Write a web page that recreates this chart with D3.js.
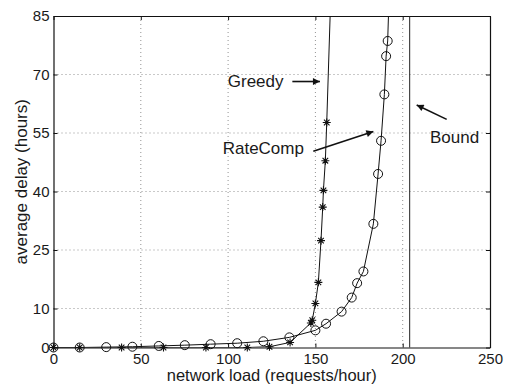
<!DOCTYPE html>
<html><head><meta charset="utf-8">
<script src="https://cdn.jsdelivr.net/npm/d3@7"></script>
<style>body{margin:0;background:#fff}svg{display:block}text{font-family:"Liberation Sans",Arial,sans-serif;fill:#1a1a1a}</style>
</head><body><svg id="c" width="505" height="385"></svg>
<script>
const greedyX = [0, 15, 39, 63, 87.3, 111, 123.7, 135.5, 147.4, 148.2, 150, 151.7, 153.2, 154.2, 154.6, 155.7, 156.5, 159.5];
const greedyY = [0, 0, 0, 0, 0, 0, 0.2, 1.3, 6.3, 7.0, 11.3, 16.7, 27.4, 36.0, 40.3, 47.9, 57.7, 100];
const greedyMarker = [1,1,1,1,1,1,1,1,1,1,1,1,1,1,1,1,1,0];
const rateX = [0, 15, 30.2, 45.2, 60.3, 75.2, 90, 105.2, 120.2, 135.1, 150, 156.1, 165, 170.8, 173.9, 177.5, 183.2, 185.9, 187.6, 189.5, 190.5, 191.4, 192.2];
const rateY = [0, 0, 0.1, 0.2, 0.4, 0.6, 0.85, 1.1, 1.6, 2.6, 4.4, 6.1, 9.2, 12.8, 16.5, 19.5, 31.7, 44.5, 53.0, 64.9, 74.7, 78.6, 90];
const rateMarker = [1,1,1,1,1,1,1,1,1,1,1,1,1,1,1,1,1,1,1,1,1,1,0];
const boundX = 204;
const xTicks = [0, 50, 100, 150, 200, 250];
const yTicks = [0, 10, 25, 40, 55, 70, 85];
const annotations = [
  {text: "Greedy", tx: 99.8, ty: 66.7, ax1: 136.8, ay1: 68.2, ax2: 152.6, ay2: 68.2},
  {text: "RateComp", tx: 96.9, ty: 49.7, ax1: 148.8, ay1: 50.3, ax2: 183.2, ay2: 55.4},
  {text: "Bound", tx: 215.6, ty: 52.4, ax1: 225.2, ay1: 58.5, ax2: 208, ay2: 62.2}
];

const svg = d3.select("#c");
const L = 53.5, R = 490, T = 16, B = 347.5;
const x = d3.scaleLinear().domain([0, 250]).range([L, R]);
const y = d3.scaleLinear().domain([0, 85]).range([B, T]);

const defs = svg.append("defs");
defs.append("clipPath").attr("id","clip")
  .append("rect").attr("x",L).attr("y",T).attr("width",R-L).attr("height",B-T);
defs.append("marker").attr("id","arr").attr("viewBox","0 0 10 10").attr("refX",10).attr("refY",5)
  .attr("markerWidth",10).attr("markerHeight",7).attr("markerUnits","userSpaceOnUse").attr("orient","auto")
  .append("path").attr("d","M0,0 L10,5 L0,10 z").attr("fill","#111");

// grid
const g = svg.append("g");
g.selectAll(".vg").data(xTicks.filter(d => d > 0 && d < 250)).enter().append("line")
  .attr("x1", d => x(d)).attr("x2", d => x(d)).attr("y1", T).attr("y2", B)
  .attr("stroke", "#777").attr("stroke-width", 0.8).attr("stroke-dasharray", "1,3");
g.selectAll(".hg").data(yTicks.filter(d => d > 0 && d < 85)).enter().append("line")
  .attr("y1", d => y(d)).attr("y2", d => y(d)).attr("x1", L).attr("x2", R)
  .attr("stroke", "#777").attr("stroke-width", 0.8).attr("stroke-dasharray", "1,3");

// axes
const fmt = d3.format("d");
const ax = svg.append("g").attr("transform", `translate(0,${B})`)
  .call(d3.axisBottom(x).tickValues(xTicks).tickFormat(fmt).tickSizeInner(-4).tickSizeOuter(0).tickPadding(6));
const ay = svg.append("g").attr("transform", `translate(${L},0)`)
  .call(d3.axisLeft(y).tickValues(yTicks).tickFormat(fmt).tickSizeInner(-4).tickSizeOuter(0).tickPadding(4));
svg.append("g").attr("transform", `translate(0,${T})`)
  .call(d3.axisTop(x).tickValues(xTicks).tickFormat("").tickSizeInner(-4).tickSizeOuter(0));
svg.append("g").attr("transform", `translate(${R},0)`)
  .call(d3.axisRight(y).tickValues(yTicks).tickFormat("").tickSizeInner(-4).tickSizeOuter(0));
svg.selectAll(".domain").attr("stroke", "#111").attr("stroke-width", 1.2);
svg.selectAll(".tick line").attr("stroke", "#111");
svg.selectAll(".tick text").attr("font-size", 15).attr("fill", "#1a1a1a")
  .style("font-family", '"Liberation Sans", Arial, sans-serif');
ax.selectAll(".tick text").attr("dy", "0.71em");

// bound line
svg.append("line").attr("x1", x(boundX)).attr("x2", x(boundX)).attr("y1", T).attr("y2", B)
  .attr("stroke", "#222").attr("stroke-width", 1);

const line = d3.line().x(d => x(d[0])).y(d => y(d[1]));
const plot = svg.append("g").attr("clip-path", "url(#clip)");
const gData = greedyX.map((v, i) => [v, greedyY[i], greedyMarker[i]]);
const rData = rateX.map((v, i) => [v, rateY[i], rateMarker[i]]);
plot.append("path").datum(rData).attr("d", line).attr("fill", "none").attr("stroke", "#111").attr("stroke-width", 1);
plot.append("path").datum(gData).attr("d", line).attr("fill", "none").attr("stroke", "#111").attr("stroke-width", 1);

svg.append("g").selectAll("circle").data(rData.filter(d => d[2])).enter().append("circle")
  .attr("cx", d => x(d[0])).attr("cy", d => y(d[1])).attr("r", 4.5)
  .attr("fill", "none").attr("stroke", "#111").attr("stroke-width", 1);

const s = 4;
const starPath = "M" + (-s) + ",0H" + s + "M0," + (-s) + "V" + s +
  "M" + (-s*0.7) + "," + (-s*0.7) + "L" + (s*0.7) + "," + (s*0.7) +
  "M" + (-s*0.7) + "," + (s*0.7) + "L" + (s*0.7) + "," + (-s*0.7);
svg.append("g").selectAll("path").data(gData.filter(d => d[2])).enter().append("path")
  .attr("transform", d => `translate(${x(d[0])},${y(d[1])})`)
  .attr("d", starPath).attr("fill", "none").attr("stroke", "#111").attr("stroke-width", 1.1);

// annotations
const an = svg.append("g");
annotations.forEach(a => {
  an.append("text").attr("x", x(a.tx)).attr("y", y(a.ty)).attr("font-size", 17).text(a.text);
  an.append("line").attr("x1", x(a.ax1)).attr("y1", y(a.ay1)).attr("x2", x(a.ax2)).attr("y2", y(a.ay2))
    .attr("stroke", "#111").attr("stroke-width", 1.6).attr("marker-end", "url(#arr)");
});

// axis labels
svg.append("text").attr("x", (L + R) / 2).attr("y", 381).attr("text-anchor", "middle")
  .attr("font-size", 16.5).text("network load (requests/hour)");
svg.append("text").attr("transform", `translate(27,${(T + B) / 2}) rotate(-90)`).attr("text-anchor", "middle")
  .attr("font-size", 17).text("average delay (hours)");
</script></body></html>
